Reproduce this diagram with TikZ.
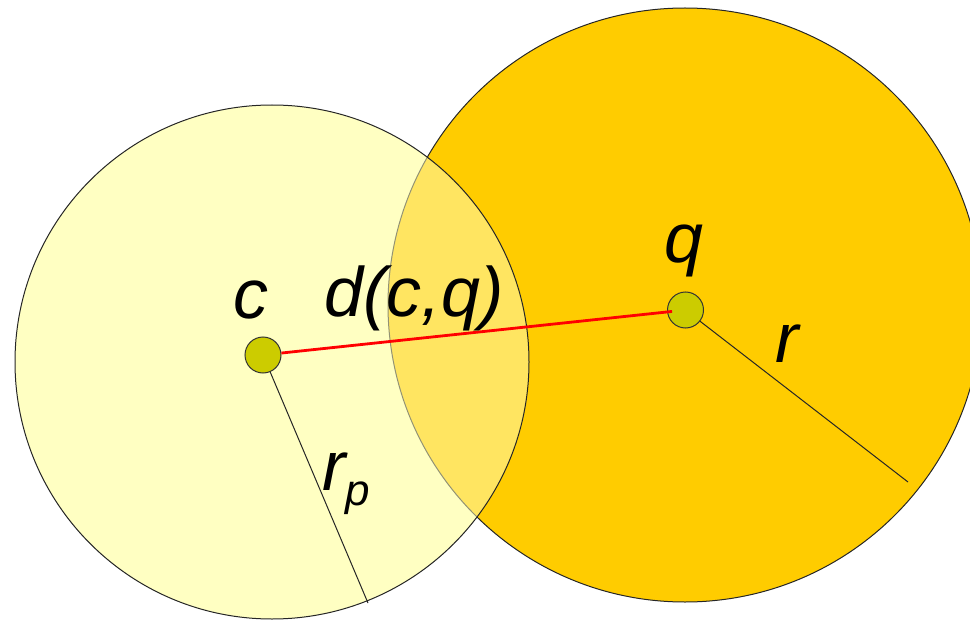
\documentclass[tikz,border=0pt]{standalone}
\usepackage{fontspec}
\setmainfont{Liberation Sans}
\begin{document}
\begin{tikzpicture}[x=1pt,y=-1pt,
  lbl/.style={inner sep=0pt, anchor=base, font=\fontsize{70}{80}\selectfont\itshape},
  dot/.style={circle, draw=black!80, line width=1pt, fill=dotc, minimum size=36pt, inner sep=0pt},
  rad/.style={draw=black!85, line width=1pt}]
\definecolor{palec}{RGB}{255,255,194}
\definecolor{orangec}{RGB}{255,204,0}
\definecolor{dotc}{RGB}{204,204,0}
\useasboundingbox (0,0) rectangle (970,623);
% opaque base of the small circle
\fill[palec] (272,362) circle (257pt);
% big circle
\node[circle, draw=black!85, line width=1pt, fill=orangec, minimum size=594pt, inner sep=0pt] (Q) at (685,305) {};
% small translucent circle on top
\node[circle, draw=black!85, line width=1pt, fill=palec, fill opacity=0.5, draw opacity=1, minimum size=514pt, inner sep=0pt] (P) at (272,362) {};
\coordinate (rpend) at (368,603);
\coordinate (rend) at (908,482);
\node[dot] (c) at (263,355) {};
\node[dot] (q) at (685.5,310) {};
\draw[rad] (c) -- (rpend);
\draw[rad] (q) -- (rend);
\draw[red, line width=2.8pt, shorten >=-5pt] (c) -- (q);
\node[lbl] (lc) at (251,318) {c};
\node[lbl] (ld) at (414,316) {d(c,q)};
\node[lbl] (lq) at (684,262) {q};
\node[lbl] (lr) at (787,362) {r};
\node[lbl, anchor=base west] (lrp) at (322,490) {r\raisebox{-15pt}{\fontsize{44}{50}\selectfont p}};
\end{tikzpicture}
\end{document}
